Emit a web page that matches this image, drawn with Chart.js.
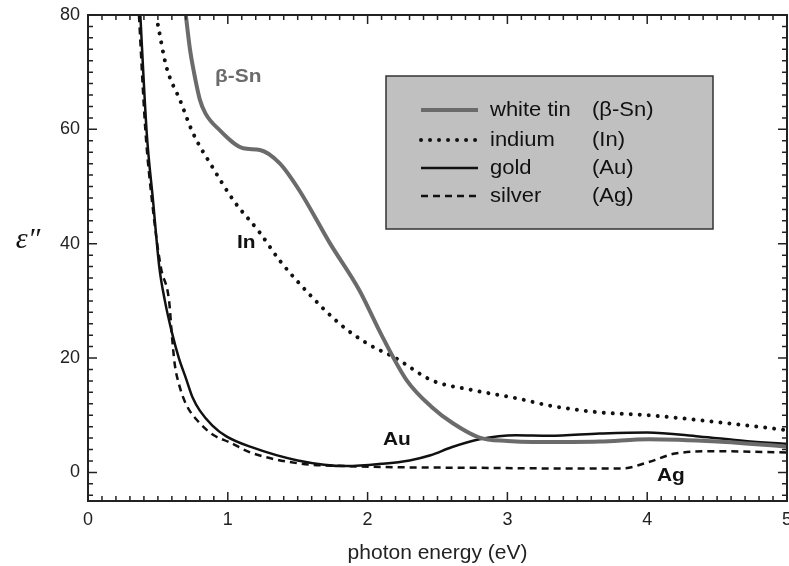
<!DOCTYPE html>
<html>
<head>
<meta charset="utf-8">
<script src="https://cdn.jsdelivr.net/npm/chart.js@4.4.0/dist/chart.umd.min.js"></script>
<style>
  html, body { margin: 0; padding: 0; background: #fff; }
  canvas { display: block; }
</style>
</head>
<body>
<canvas id="grafico" width="789" height="566"></canvas>
<script>
// photon energy (eV) and epsilon''
const energiaSn = [0.69, 0.73, 0.75, 0.80, 0.84, 0.94, 1.11, 1.23, 1.37, 1.51, 1.73, 1.94, 2.10, 2.28, 2.46, 2.61, 2.80, 3.00, 3.18, 3.66, 4.01, 4.50, 5.00]
const valorSn   = [82, 73.9, 71, 65.2, 62.8, 59.9, 56.7, 56.4, 54.1, 49.4, 40.1, 31.9, 24, 16.1, 11.4, 8.6, 6.1, 5.5, 5.3, 5.4, 5.8, 5.4, 4.5]

const energiaIn = [0.50, 0.56, 0.66, 0.75, 0.89, 1.04, 1.23, 1.37, 1.59, 1.80, 2.00, 2.20, 2.46, 2.75, 3.06, 3.30, 3.66, 4.01, 4.50, 5.00]
const valorIn   = [78.3, 71, 65, 59.4, 53.4, 47.6, 41.9, 37.1, 31, 26, 22.5, 20, 16.1, 14.4, 13.0, 11.7, 10.5, 10.0, 8.8, 7.4]

const energiaAu = [0.37, 0.42, 0.465, 0.51, 0.55, 0.60, 0.65, 0.70, 0.75, 0.80, 0.89, 0.99, 1.16, 1.50, 1.85, 2.10, 2.30, 2.45, 2.60, 2.80, 3.06, 3.30, 3.66, 4.00, 4.37, 4.70, 5.00]
const valorAu   = [82, 59.4, 47.6, 35.9, 30, 24.5, 20, 16.5, 13.0, 10.8, 8.2, 6.3, 4.5, 2.1, 1.1, 1.5, 2.1, 3.0, 4.4, 5.8, 6.5, 6.4, 6.8, 7.0, 6.3, 5.5, 5.0]

const energiaAg = [0.36, 0.41, 0.46, 0.52, 0.58, 0.60, 0.62, 0.65, 0.70, 0.80, 0.90, 1.01, 1.16, 1.50, 1.85, 2.23, 2.80, 3.30, 3.82, 4.01, 4.20, 4.49, 5.00]
const valorAg   = [82, 60, 47, 36, 30, 24, 19, 15.5, 12, 8.6, 6.5, 5.3, 3.5, 1.6, 1.1, 0.9, 0.8, 0.7, 0.7, 1.8, 3.3, 3.7, 3.5]

const ticksX = [0, 1, 2, 3, 4, 5]
const ticksY = [0, 20, 40, 60, 80]

const legendaNomes = ["white tin", "indium", "gold", "silver"]
const legendaSimbolos = ["(β-Sn)", "(In)", "(Au)", "(Ag)"]

const rotulos = [
    { texto: "β-Sn", x: 215, y: 77, cor: "#6b6b6b" },
    { texto: "In", x: 237, y: 243, cor: "#111" },
    { texto: "Au", x: 383, y: 440, cor: "#111" },
    { texto: "Ag", x: 657, y: 476, cor: "#111" }
]

const pontos = (xs, ys) => xs.map((x, i) => ({ x: x, y: ys[i] }))

const FONTE = '"Liberation Sans", Arial, sans-serif'

// frame, inward ticks, unrotated y title, legend box and curve labels
const desenhoExtra = {
    id: 'desenhoExtra',
    afterDraw(chart) {
        const c = chart.ctx
        const a = chart.chartArea
        const sx = chart.scales.x
        const sy = chart.scales.y
        c.save()
        c.strokeStyle = '#222'
        c.lineWidth = 2
        c.strokeRect(a.left, a.top, a.right - a.left, a.bottom - a.top)

        c.lineWidth = 1.5
        c.beginPath()
        for (let i = 0; i <= 50; i++) {
            const px = sx.getPixelForValue(i / 10)
            const len = i % 10 === 0 ? 9 : 5
            c.moveTo(px, a.bottom); c.lineTo(px, a.bottom - len)
            c.moveTo(px, a.top); c.lineTo(px, a.top + len)
        }
        for (let v = -4; v <= 80; v += 2) {
            const py = sy.getPixelForValue(v)
            const len = v % 20 === 0 ? 9 : 5
            c.moveTo(a.left, py); c.lineTo(a.left + len, py)
            c.moveTo(a.right, py); c.lineTo(a.right - len, py)
        }
        c.stroke()

        // y title
        c.fillStyle = '#111'
        c.font = 'italic 30px "Liberation Serif", "DejaVu Serif", serif'
        c.textAlign = 'center'
        c.textBaseline = 'middle'
        c.fillText('ε″', 28, 240)

        // legend box
        c.fillStyle = '#c0c0c0'
        c.fillRect(386, 76, 327, 153)
        c.strokeStyle = '#333'
        c.lineWidth = 1.5
        c.strokeRect(386, 76, 327, 153)
        const linhas = [110, 140, 168, 196]
        chart.data.datasets.forEach((ds, i) => {
            const y = linhas[i]
            c.save()
            c.strokeStyle = ds.borderColor
            c.lineWidth = ds.borderWidth
            c.lineCap = ds.borderCapStyle || 'butt'
            c.setLineDash(ds.borderDash || [])
            c.beginPath()
            c.moveTo(421, y); c.lineTo(478, y)
            c.stroke()
            c.restore()
            c.fillStyle = '#111'
            c.textAlign = 'left'
            c.font = '20px ' + FONTE
            c.save()
            c.translate(490, y); c.scale(1.1, 1)
            c.fillText(legendaNomes[i], 0, 0)
            c.restore()
            c.save()
            c.translate(592, y); c.scale(1.1, 1)
            c.fillText(legendaSimbolos[i], 0, 0)
            c.restore()
        })

        // curve labels
        c.font = 'bold 19px ' + FONTE
        c.textAlign = 'left'
        rotulos.forEach(r => {
            c.save()
            c.fillStyle = r.cor
            c.translate(r.x, r.y); c.scale(1.1, 1)
            c.fillText(r.texto, 0, 0)
            c.restore()
        })
        c.restore()
    }
}

const ctx = document.getElementById('grafico')

new Chart(ctx, {
    type: 'line',
    data: {
        datasets: [
            {
                label: 'white tin (β-Sn)',
                data: pontos(energiaSn, valorSn),
                borderColor: '#6b6b6b',
                borderWidth: 4,
                pointRadius: 0,
                cubicInterpolationMode: 'monotone'
            },
            {
                label: 'indium (In)',
                data: pontos(energiaIn, valorIn),
                borderColor: '#111',
                borderWidth: 4,
                borderDash: [0.01, 9],
                borderCapStyle: 'round',
                pointRadius: 0,
                cubicInterpolationMode: 'monotone'
            },
            {
                label: 'gold (Au)',
                data: pontos(energiaAu, valorAu),
                borderColor: '#111',
                borderWidth: 2.5,
                pointRadius: 0,
                cubicInterpolationMode: 'monotone'
            },
            {
                label: 'silver (Ag)',
                data: pontos(energiaAg, valorAg),
                borderColor: '#111',
                borderWidth: 2.5,
                borderDash: [7, 5],
                pointRadius: 0,
                cubicInterpolationMode: 'monotone'
            }
        ]
    },
    options: {
        responsive: false,
        animation: false,
        devicePixelRatio: 1,
        layout: { padding: { left: 0, top: 15, right: 2, bottom: 0 } },
        plugins: {
            legend: { display: false },
            tooltip: { enabled: false }
        },
        scales: {
            x: {
                type: 'linear',
                min: 0,
                max: 5,
                afterFit: s => { s.height = 65; s.paddingLeft = 0; s.paddingRight = 0 },
                afterBuildTicks: s => { s.ticks = ticksX.map(v => ({ value: v })) },
                grid: { display: false, drawTicks: false },
                border: { display: false },
                ticks: { color: '#222', font: { family: FONTE, size: 18 }, padding: 8, maxRotation: 0 },
                title: {
                    display: true,
                    text: 'photon energy (eV)',
                    color: '#222',
                    font: { family: FONTE, size: 21 },
                    padding: { top: 0, bottom: 0 }
                }
            },
            y: {
                min: -5,
                max: 80,
                afterFit: s => { s.width = 88; s.paddingTop = 0; s.paddingBottom = 0 },
                afterBuildTicks: s => { s.ticks = ticksY.map(v => ({ value: v })) },
                grid: { display: false, drawTicks: false },
                border: { display: false },
                ticks: { color: '#222', font: { family: FONTE, size: 18 }, padding: 8 }
            }
        }
    },
    plugins: [desenhoExtra]
});
</script>
</body>
</html>
